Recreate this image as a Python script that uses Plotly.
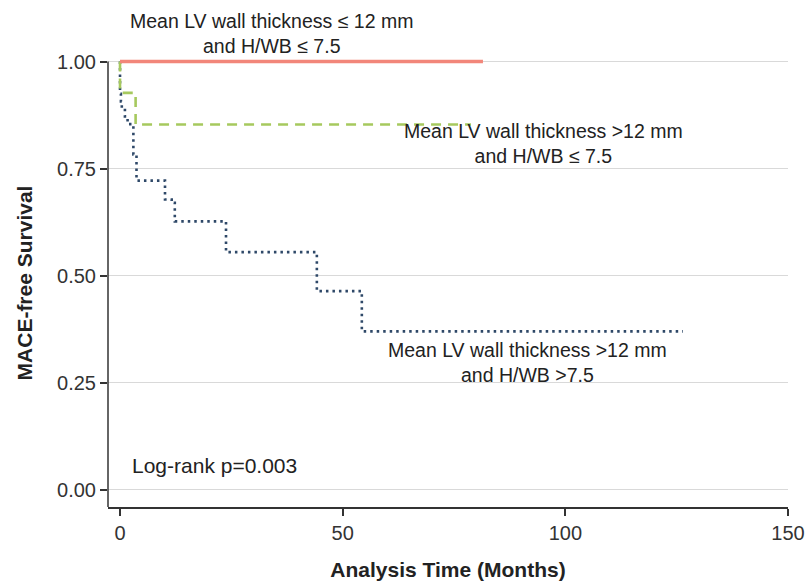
import plotly.graph_objects as go

# ---- data ----
red_t = [0, 81.5]
red_s = [1.0, 1.0]

green_t = [0, 0, 3.5, 78.8]
green_s = [1.0, 0.927, 0.853, 0.853]

blue_t = [0, 0, 0.2, 0.4, 1.1, 1.7, 3.0, 3.7, 10.1, 11.6, 12.3, 23.8, 44.2, 54.3, 126.4]
blue_s = [1.0, 0.925, 0.907, 0.892, 0.872, 0.854, 0.783, 0.722, 0.678, 0.670, 0.627, 0.555, 0.464, 0.370, 0.370]

x_ticks = [0, 50, 100, 150]
y_ticks = [0.0, 0.25, 0.5, 0.75, 1.0]
y_tick_labels = ["0.00", "0.25", "0.50", "0.75", "1.00"]

label_red = "Mean LV wall thickness ≤ 12 mm<br>and H/WB ≤ 7.5"
label_green = "Mean LV wall thickness >12 mm<br>and H/WB ≤ 7.5"
label_blue = "Mean LV wall thickness >12 mm<br>and H/WB >7.5"
logrank = "Log-rank p=0.003"

FONT = "Liberation Sans, Arial, Helvetica, sans-serif"
TXT = "#222222"
AX = "#333333"

fig = go.Figure()
fig.add_trace(go.Scatter(x=blue_t, y=blue_s, mode="lines", line_shape="hv",
                         line=dict(color="#2E4868", width=2.6, dash="2.5px,4px"),
                         showlegend=False, hoverinfo="skip"))
fig.add_trace(go.Scatter(x=green_t, y=green_s, mode="lines", line_shape="hv",
                         line=dict(color="#A6C95E", width=2.6, dash="10px,7px"),
                         showlegend=False, hoverinfo="skip"))
fig.add_trace(go.Scatter(x=red_t, y=red_s, mode="lines", line_shape="hv",
                         line=dict(color="#F2867A", width=3.5),
                         showlegend=False, hoverinfo="skip"))

# y axis line from range bottom to 1.00
fig.add_shape(type="line", xref="paper", yref="y", x0=0, x1=0, y0=-0.04, y1=1.0,
              line=dict(color=AX, width=1.5), layer="above")

annot_font = dict(family=FONT, size=19.5, color=TXT)
fig.add_annotation(x=0.241, y=1.058, xref="paper", yref="paper", text=label_red, showarrow=False,
                   font=annot_font, align="center", xanchor="center", yanchor="middle")
fig.add_annotation(x=95, y=0.808, xref="x", yref="y", text=label_green, showarrow=False,
                   font=annot_font, align="center", xanchor="center", yanchor="middle")
fig.add_annotation(x=91.4, y=0.297, xref="x", yref="y", text=label_blue, showarrow=False,
                   font=annot_font, align="center", xanchor="center", yanchor="middle")
fig.add_annotation(x=2.2, y=0.056, xref="x", yref="y", text=logrank, showarrow=False,
                   font=dict(family=FONT, size=21, color=TXT), xanchor="left", yanchor="middle")

fig.update_layout(
    width=808, height=581,
    margin=dict(l=108, r=20, t=59, b=74),
    paper_bgcolor="white", plot_bgcolor="white",
    font=dict(family=FONT, color=AX),
    xaxis=dict(range=[-2.7, 150], tickvals=x_ticks, ticks="outside", ticklen=7,
               tickwidth=1.5, tickcolor=AX, showline=True, linecolor=AX, linewidth=1.5,
               showgrid=False, zeroline=False,
               tickfont=dict(family=FONT, size=20, color=AX),
               title=dict(text="<b>Analysis Time (Months)</b>", standoff=20,
                          font=dict(family=FONT, size=21, color=TXT)),
               automargin=False),
    yaxis=dict(range=[-0.04, 1.006], tickvals=y_ticks, ticktext=y_tick_labels,
               ticks="outside", ticklen=7, tickwidth=1.5, tickcolor=AX,
               showline=False, showgrid=True, gridcolor="#D9D9D9", gridwidth=1,
               zeroline=True, zerolinecolor="#D9D9D9", zerolinewidth=1,
               tickfont=dict(family=FONT, size=20, color=AX),
               title=dict(text="<b>MACE-free Survival</b>", standoff=18,
                          font=dict(family=FONT, size=21, color=TXT)),
               automargin=False),
)

fig.write_html("out.html")
